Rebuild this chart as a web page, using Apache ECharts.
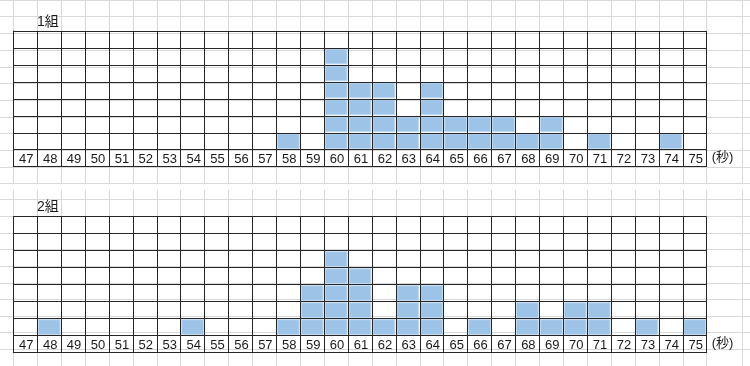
<!DOCTYPE html>
<html><head><meta charset="utf-8">
<script src="https://cdn.jsdelivr.net/npm/echarts@6/dist/echarts.min.js"></script>
<style>html,body{margin:0;padding:0;background:#fff}#c{width:750px;height:366px}</style>
</head><body><div id="c"></div>
<script>
// ---- data ----
const categories = ['47','48','49','50','51','52','53','54','55','56','57','58','59','60','61','62','63','64','65','66','67','68','69','70','71','72','73','74','75'];
const group1 = [0,0,0,0,0,0,0,0,0,0,0,1,0,6,4,4,2,4,2,2,2,1,2,0,1,0,0,1,0];
const group2 = [0,1,0,0,0,0,0,1,0,0,0,1,3,5,4,1,3,3,0,1,0,2,1,2,2,0,1,0,1];
const groupNames = ['1組', '2組'];
const unitLabel = '(秒)';
const rowMax = 7;

// ---- layout ----
const FONT = "'Liberation Sans', 'Noto Sans CJK JP', sans-serif";
const LEFT = 13.3, COLW = 23.91, NCOL = categories.length;
const PLOTW = COLW * NCOL;
const ROWH1 = 16.96, ROWH2 = 17;
const TOP1 = 31, TOP2 = 216.7;
const BG = '#d9d9d9', INK = '#262626';

const bgColors = [];
for (let i = 0; i < 32; i++) bgColors.push(i === 30 ? 'rgba(0,0,0,0)' : BG);

const hidden = {show: false};
function hiddenAxis(extra) {
  return Object.assign({type: 'value', axisLine: hidden, axisTick: hidden, axisLabel: hidden, splitLine: hidden, z: 0}, extra);
}

const grids = [
  {left: LEFT, top: 0, width: COLW * 30.5, height: 183},
  {left: LEFT, top: 190, width: COLW * 30.5, height: 176},
  {left: 0, right: 0, top: TOP1 - 2 * ROWH1, height: 11 * ROWH1},
  {left: 0, right: 0, top: TOP2 - ROWH2, height: 10 * ROWH2},
  {left: LEFT, top: TOP1, width: PLOTW, height: 8 * ROWH1},
  {left: LEFT, top: TOP2, width: PLOTW, height: 8 * ROWH2}
];

const xAxes = [
  hiddenAxis({gridIndex: 0, min: 0, max: 30.5, interval: 1, splitLine: {show: true, lineStyle: {color: bgColors, width: 1}}}),
  hiddenAxis({gridIndex: 1, min: 0, max: 30.5, interval: 1, splitLine: {show: true, lineStyle: {color: bgColors, width: 1}}}),
  hiddenAxis({gridIndex: 2, min: 0, max: 1}),
  hiddenAxis({gridIndex: 3, min: 0, max: 1})
];
const yAxes = [
  hiddenAxis({gridIndex: 0, min: 0, max: 1}),
  hiddenAxis({gridIndex: 1, min: 0, max: 1}),
  hiddenAxis({gridIndex: 2, min: 0, max: 11, interval: 1, splitLine: {show: true, lineStyle: {color: BG, width: 1}}}),
  hiddenAxis({gridIndex: 3, min: 0, max: 10, interval: 1, splitLine: {show: true, lineStyle: {color: BG, width: 1}}})
];

[4, 5].forEach(function (g) {
  xAxes.push({
    type: 'category', gridIndex: g, data: categories, boundaryGap: true, z: 5,
    position: 'bottom',
    axisLine: {show: true, onZero: false, lineStyle: {color: INK, width: 1}},
    axisTick: {show: false},
    axisLabel: {inside: true, margin: 1, interval: 0, color: '#1a1a1a', fontSize: 13, fontFamily: FONT, padding: [0, 0, 0, 2]},
    splitLine: {show: true, interval: 0, lineStyle: {color: INK, width: 1}},
    name: unitLabel, nameLocation: 'end', nameGap: 5,
    nameTextStyle: {color: '#1a1a1a', fontSize: 13, fontFamily: FONT, verticalAlign: 'bottom', align: 'left', lineHeight: 16, padding: [0, 0, 1, 0]}
  });
  yAxes.push({
    type: 'value', gridIndex: g, min: -1, max: rowMax, interval: 1, z: 5,
    axisLine: {show: true, lineStyle: {color: INK, width: 1}},
    axisTick: {show: false}, axisLabel: {show: false},
    splitLine: {show: true, lineStyle: {color: INK, width: 1}}
  });
});

function renderCells(params, api) {
  const i = api.value(0), n = api.value(1);
  const size = api.size([1, 1]);
  const children = [];
  for (let k = 0; k < n; k++) {
    const p = api.coord([i, k + 1]);
    children.push({
      type: 'rect',
      shape: {x: p[0] - size[0] / 2 + 1, y: p[1] + 1, width: size[0] - 2, height: size[1] - 2},
      style: {fill: '#9DC3E6', stroke: '#C5DCF1', lineWidth: 1}
    });
  }
  return {type: 'group', children: children};
}

const series = [group1, group2].map(function (vals, gi) {
  return {
    type: 'custom', name: groupNames[gi], xAxisIndex: 4 + gi, yAxisIndex: 4 + gi, z: 2,
    renderItem: renderCells, silent: true,
    data: vals.map(function (v, i) { return [i, v]; })
  };
});

const chart = echarts.init(document.getElementById('c'), null, {renderer: 'canvas'});
chart.setOption({
  backgroundColor: '#fff',
  animation: false,
  title: [
    {text: groupNames[0], left: 37, top: 15, padding: 0, textStyle: {color: '#1a1a1a', fontSize: 14, fontWeight: 'normal', fontFamily: FONT}},
    {text: groupNames[1], left: 37, top: 200, padding: 0, textStyle: {color: '#1a1a1a', fontSize: 14, fontWeight: 'normal', fontFamily: FONT}}
  ],
  grid: grids,
  xAxis: xAxes,
  yAxis: yAxes,
  series: series
});
</script></body></html>
